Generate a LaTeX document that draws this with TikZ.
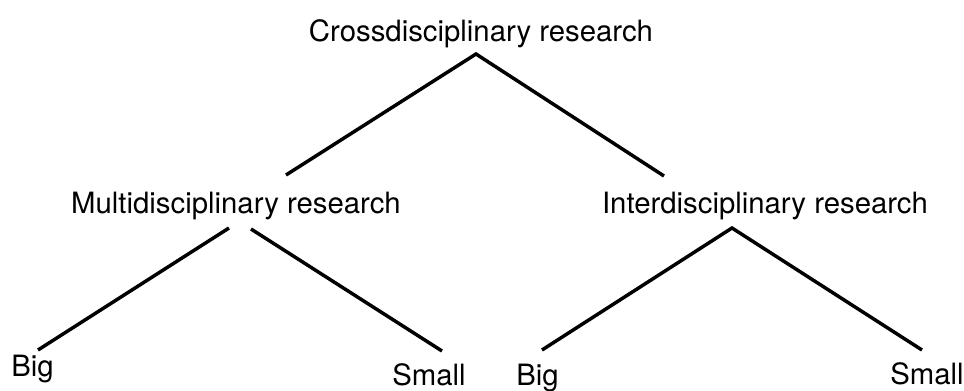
\documentclass[tikz,border=0pt]{standalone}
\usepackage{fontspec}
\setmainfont{TeX Gyre Heros}
\usetikzlibrary{calc}
\tikzset{
  lbl/.style={font=\fontsize{22}{26}\selectfont, inner sep=0pt, anchor=base},
  branch/.style={line width=2.6pt}
}
\begin{document}
\begin{tikzpicture}[x=0.75pt, y=-0.75pt]
  \useasboundingbox (0,0) rectangle (964,390);
  % labels
  \node[lbl] (cross) at (481,41) {Crossdisciplinary research};
  \node[lbl] (multi) at (236,213) {Multidisciplinary research};
  \node[lbl] (inter) at (765,213) {Interdisciplinary research};
  \node[lbl] (bigL) at (32.5,376) {Big};
  \node[lbl] (smallL) at (429,385) {Small};
  \node[lbl] (bigR) at (537.5,385) {Big};
  \node[lbl] (smallR) at (927,384) {Small};
  % branches
  \draw[branch] ($(multi.base)+(50,-38)$) -- ($(cross.base)+(-5,13)$)
    -- ($(inter.base)+(-101,-37)$);
  \draw[branch] ($(bigL.base)+(5.5,-26)$) -- ($(multi.base)+(-7,15)$);
  \draw[branch] ($(multi.base)+(15,16)$) -- ($(smallL.base)+(13,-34)$);
  \draw[branch] ($(bigR.base)+(4.5,-35)$) -- ($(inter.base)+(-33,15)$)
    -- ($(smallR.base)+(-5,-34)$);
\end{tikzpicture}
\end{document}
